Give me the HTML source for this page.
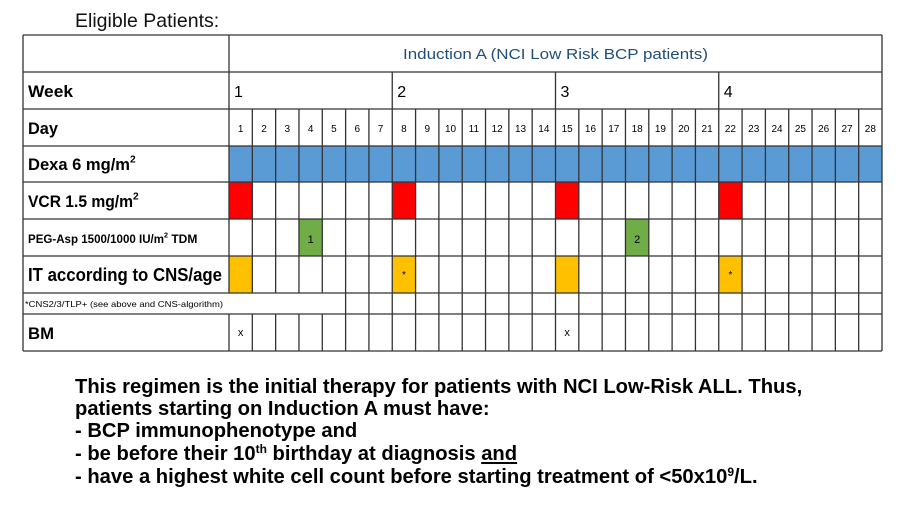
<!DOCTYPE html>
<html><head><meta charset="utf-8"><style>
body{margin:0;background:#fff;width:916px;height:515px;overflow:hidden}
svg{display:block}
</style></head><body>
<svg width="916" height="515" xmlns="http://www.w3.org/2000/svg">
<text x="75" y="27" font-family="Liberation Sans,sans-serif" font-size="19.5" fill="#111">Eligible Patients:</text>
<g id="fills"></g>
<g id="grid" stroke="#333" stroke-width="1.3"></g>
<g id="txt"></g>
<g font-family="Liberation Sans,sans-serif" font-weight="bold" font-size="20.2" fill="#000">
<text x="75" y="393">This regimen is the initial therapy for patients with NCI Low-Risk ALL. Thus,</text>
<text x="75" y="415">patients starting on Induction A must have:</text>
<text x="75" y="437">- BCP immunophenotype and</text>
<text x="75" y="460">- be before their 10<tspan font-size="12" dy="-7">th</tspan><tspan dy="7"> birthday at diagnosis </tspan><tspan text-decoration="underline">and</tspan></text>
<text x="75" y="483">- have a highest white cell count before starting treatment of &lt;50x10<tspan font-size="12" dy="-7">9</tspan><tspan dy="7">/L.</tspan></text>
</g>
</svg>
<script>
const NS="http://www.w3.org/2000/svg";
const L=23,C=229,R=882,W=(R-C)/28;
const ys=[35,72,109,146,182,219,256,293,314,351];
const f=document.getElementById('fills'),g=document.getElementById('grid'),t=document.getElementById('txt');
function el(p,tag,a,txt){const e=document.createElementNS(NS,tag);for(const k in a)e.setAttribute(k,a[k]);if(txt!==undefined)e.textContent=txt;p.appendChild(e);return e;}
function cx(d){return C+(d-1)*W;}
el(f,'rect',{x:C,y:ys[3],width:R-C,height:ys[4]-ys[3],fill:'#5b9bd5'});
[1,8,15,22].forEach(d=>{el(f,'rect',{x:cx(d),y:ys[4],width:W,height:ys[5]-ys[4],fill:'#ff0000'});});
[1,8,15,22].forEach(d=>{el(f,'rect',{x:cx(d),y:ys[6],width:W,height:ys[7]-ys[6],fill:'#ffc000'});});
[4,18].forEach(d=>el(f,'rect',{x:cx(d),y:ys[5],width:W,height:ys[6]-ys[5],fill:'#70ad47'}));
ys.forEach(y=>el(g,'line',{x1:L,x2:R,y1:y,y2:y}));
el(g,'line',{x1:L,x2:L,y1:35,y2:351});el(g,'line',{x1:R,x2:R,y1:35,y2:351});
el(g,'line',{x1:C,x2:C,y1:35,y2:293});el(g,'line',{x1:C,x2:C,y1:314,y2:351});
for(let d=2;d<=28;d++){const x=cx(d);
 if((d-1)%7==0) el(g,'line',{x1:x,x2:x,y1:72,y2:351});
 else { el(g,'line',{x1:x,x2:x,y1:109,y2:293}); el(g,'line',{x1:x,x2:x,y1:314,y2:351}); if(d>=6) el(g,'line',{x1:x,x2:x,y1:293,y2:314}); }
}
const fs='font-family:"Liberation Sans",sans-serif;';
el(t,'text',{x:403,y:59,'font-size':15,fill:'#1f4e79',style:fs,textLength:305,lengthAdjust:'spacingAndGlyphs'},'Induction A (NCI Low Risk BCP patients)');
const lab=[[97,'Week',17,45],[134,'Day',17,30],[170,'Dexa 6 mg/m',17,102],[207,'VCR 1.5 mg/m',17,105],[243,'PEG-Asp 1500/1000 IU/m',12,136],[281,'IT according to CNS/age',18,194],[307,'*CNS2/3/TLP+ (see above and CNS-algorithm)',8.5,198],[339,'BM',17,26]];
lab.forEach(([y,s,sz,w],i)=>{const e=el(t,'text',{x:i==6?25:28,y:y,'font-size':sz,'font-weight':i==6?'normal':'bold',style:fs});
 el(e,'tspan',{textLength:w,lengthAdjust:'spacingAndGlyphs'},s);
 if(i==2||i==3||i==4){el(e,'tspan',{'font-size':sz*0.6,dy:-sz*0.45},'2');if(i==4)el(e,'tspan',{dy:sz*0.45},' TDM');}
});
[1,2,3,4].forEach((w,i)=>el(t,'text',{x:cx(1+7*i)+5,y:97,'font-size':16,style:fs},String(w)));
for(let d=1;d<=28;d++)el(t,'text',{x:cx(d)+W/2,y:132,'text-anchor':'middle','font-size':10,style:fs},String(d));
el(t,'text',{x:cx(4)+W/2,y:243,'text-anchor':'middle','font-size':11,style:fs},'1');
el(t,'text',{x:cx(18)+W/2,y:243,'text-anchor':'middle','font-size':11,style:fs},'2');
[8,22].forEach(d=>el(t,'text',{x:cx(d)+W/2,y:278,'text-anchor':'middle','font-size':10,style:fs},'*'));
[1,15].forEach(d=>el(t,'text',{x:cx(d)+W/2,y:336,'text-anchor':'middle','font-size':11,style:fs},'x'));
</script>
</body></html>
